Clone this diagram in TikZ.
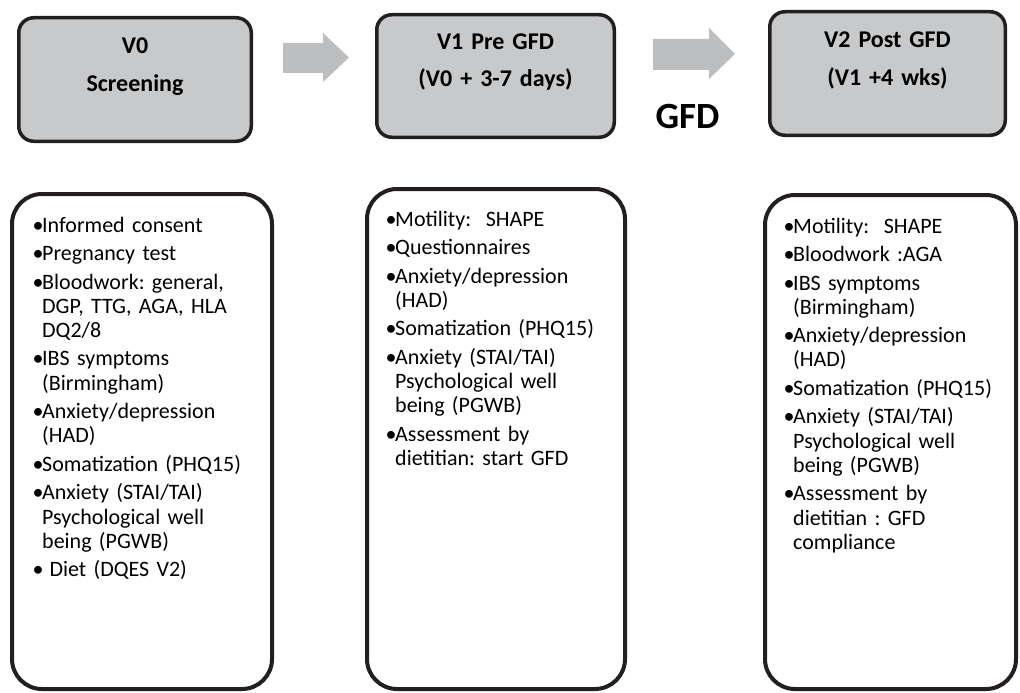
\documentclass[tikz,border=0pt]{standalone}
\usepackage{fontspec}
\setmainfont{Carlito}
\usetikzlibrary{positioning}
\definecolor{boxgray}{RGB}{200,201,203}
\definecolor{arrowgray}{RGB}{188,190,192}
\definecolor{edgeblack}{RGB}{35,31,32}
\frenchspacing
\newcommand{\itmstart}{\hangindent=8pt\hangafter=1\makebox[8pt][c]{•}}
\newcommand{\itm}{\par\parskip=4.3pt\noindent\itmstart}

\begin{document}
\begin{tikzpicture}[x=1pt,y=-1pt]

\tikzset{visit/.style = {draw=edgeblack, fill=boxgray, line width=3.5pt, rounded corners=15pt, inner sep=0pt}}
\tikzset{visittext/.style = {font=\fontsize{24}{38}\selectfont\bfseries, text width=230pt, align=center, inner sep=0pt, anchor=base}}
\tikzset{tasks/.style = {draw=edgeblack, line width=4pt, rounded corners=30pt, inner sep=0pt}}
\tikzset{tasktext/.style = {font=\fontsize{22}{24.2}\selectfont, text width=235pt, inner sep=0pt, anchor=base west}}
\tikzset{blockarrow/.style = {fill=arrowgray}}
\useasboundingbox (0,0) rectangle (1020,693);
%visits
\node[visit, minimum width=232.5pt, minimum height=123.5pt] (v0) at (135,79.5) {};
\node[visit, minimum width=237.5pt, minimum height=122.5pt] (v1) at (495.5,76) {};
\node[visit, minimum width=235.5pt, minimum height=123.5pt] (v2) at (887.5,73.5) {};
\node[visittext] (v0t) at (135,54) {V0\\Screening};
\node[visittext] (v1t) at (495.5,49) {V1 Pre GFD\\(V0 + 3-7 days)};
\node[visittext] (v2t) at (887.5,48) {V2 Post GFD\\(V1 +4 wks)};
%arrows
\fill[blockarrow] (283,43) -- (323,43) -- (323,33) -- (349,57.5) -- (323,82) -- (323,73) -- (283,73) -- cycle;
\fill[blockarrow] (653,39) -- (709,39) -- (709,28) -- (735,54) -- (709,79) -- (709,70) -- (653,70) -- cycle;
\node[font=\fontsize{37}{40}\selectfont\bfseries, anchor=base] (gfd) at (687.5,128) {GFD};
%task lists
\node[tasks, minimum width=260pt, minimum height=495pt] (l0) at (142,441.5) {};
\node[tasks, minimum width=258pt, minimum height=500pt] (l1) at (496,439) {};
\node[tasks, minimum width=251pt, minimum height=494pt] (l2) at (890.5,442) {};
\node[tasktext] (l0t) at (34,232) {%
\itmstart Informed consent
\itm Pregnancy test
\itm Bloodwork: general,\newline DGP, TTG, AGA, HLA\newline DQ2/8
\itm IBS symptoms\newline (Birmingham)
\itm Anxiety/depression\newline (HAD)
\itm Somatization (PHQ15)
\itm Anxiety (STAI/TAI)\newline Psychological well\newline being (PGWB)
\itm\ Diet (DQES V2)\par};
\node[tasktext] (l1t) at (387,226) {%
\itmstart Motility:\ \ SHAPE
\itm Questionnaires
\itm Anxiety/depression\newline (HAD)
\itm Somatization (PHQ15)
\itm Anxiety (STAI/TAI)\newline Psychological well\newline being (PGWB)
\itm Assessment by\newline dietitian: start GFD\par};
\node[tasktext] (l2t) at (785,233) {%
\itmstart Motility:\ \ SHAPE
\itm Bloodwork :AGA
\itm IBS symptoms\newline (Birmingham)
\itm Anxiety/depression\newline (HAD)
\itm Somatization (PHQ15)
\itm Anxiety (STAI/TAI)\newline Psychological well\newline being (PGWB)
\itm Assessment by\newline dietitian : GFD\newline compliance\par};

\end{tikzpicture}
\end{document}
